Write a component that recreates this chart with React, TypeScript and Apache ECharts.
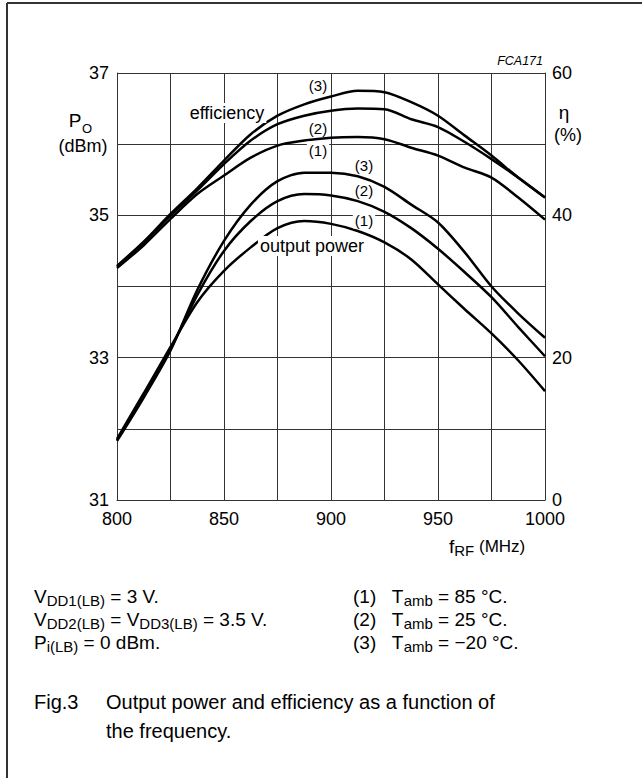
import React, { useEffect, useRef } from "react";
import * as echarts from "echarts";

// Frequency (MHz)
const freqMHz = [800, 812.5, 825, 837.5, 850, 862.5, 875, 887.5, 900, 912.5, 925, 937.5, 950, 962.5, 975, 987.5, 1000];
// Output power Po (dBm)
const powerT85 = [31.86, 32.5, 33.15, 33.78, 34.22, 34.55, 34.82, 34.92, 34.88, 34.78, 34.62, 34.38, 34.03, 33.68, 33.34, 32.96, 32.53];
const powerT25 = [31.84, 32.46, 33.12, 33.88, 34.5, 34.92, 35.2, 35.3, 35.28, 35.2, 35.05, 34.82, 34.53, 34.2, 33.85, 33.43, 33.02];
const powerTm20 = [31.83, 32.44, 33.1, 33.95, 34.64, 35.15, 35.48, 35.6, 35.6, 35.55, 35.4, 35.15, 34.9, 34.48, 34.0, 33.62, 33.28];
// Efficiency (%)
const effT85 = [32.6, 35.8, 39.5, 43.0, 45.6, 48.1, 49.8, 50.5, 50.9, 51.0, 50.7, 49.5, 48.4, 46.7, 45.3, 42.5, 39.4];
const effT25 = [32.8, 36.2, 40.0, 43.5, 47.2, 50.5, 52.8, 54.0, 54.7, 55.0, 54.9, 53.5, 52.4, 50.3, 47.9, 45.3, 42.5];
const effTm20 = [32.9, 36.3, 40.2, 43.8, 47.7, 51.4, 54.0, 55.6, 56.7, 57.5, 57.3, 55.9, 54.0, 51.2, 48.4, 45.3, 42.5];

const xTickLabels = [800, 850, 900, 950, 1000];
const leftTickLabels = [31, 33, 35, 37];
const rightTickLabels = [0, 20, 40, 60];

const FONT = "'Liberation Sans', Arial, Helvetica, sans-serif";
const INK = "#000";
const GRIDC = "#333";

export default function App() {
  const ref = useRef<HTMLDivElement>(null);

  useEffect(() => {
    if (!ref.current) return;
    const chart = echarts.init(ref.current, null, { renderer: "svg" });

    const mk = (arr: number[]) => freqMHz.map((f, i) => [f, arr[i]]);
    const lineSeries = (name: string, arr: number[], yAxisIndex: number) => ({
      name,
      type: "line",
      yAxisIndex,
      data: mk(arr),
      smooth: 0.3,
      showSymbol: false,
      symbol: "none",
      lineStyle: { color: INK, width: 2.5 },
      z: 5,
    });

    const rich = {
      m: { fontSize: 19, fontFamily: FONT, color: INK, lineHeight: 24 },
      s: { fontSize: 15, fontFamily: FONT, color: INK, lineHeight: 15, verticalAlign: "bottom" },
      u: { fontSize: 17, fontFamily: FONT, color: INK, lineHeight: 24 },
    };
    const noteText = (x: number, y: number, text: string) => ({
      type: "text",
      x,
      y,
      z: 100,
      style: { text, rich, align: "left", verticalAlign: "middle", fill: INK },
    });
    const plain = (x: number, y: number, text: string, fontSize: number, align = "center", extra: any = {}) => ({
      type: "text",
      x,
      y,
      z: 100,
      style: {
        text,
        fontSize,
        fontFamily: FONT,
        fill: INK,
        align,
        verticalAlign: "middle",
        ...extra,
      },
    });

    chart.setOption({
      animation: false,
      backgroundColor: "#fff",
      grid: { left: 117, right: 97, top: 73, bottom: 278, containLabel: false },
      xAxis: {
        type: "value",
        min: 800,
        max: 1000,
        interval: 25,
        axisLine: { show: true, lineStyle: { color: GRIDC, width: 1 } },
        axisTick: { show: false },
        splitLine: { show: true, lineStyle: { color: GRIDC, width: 1 } },
        axisLabel: {
          margin: 10,
          fontSize: 18,
          fontFamily: FONT,
          color: INK,
          formatter: (v: number) => (xTickLabels.includes(v) ? String(v) : ""),
        },
      },
      yAxis: [
        {
          type: "value",
          position: "left",
          min: 31,
          max: 37,
          interval: 1,
          axisLine: { show: true, lineStyle: { color: GRIDC, width: 1 } },
          axisTick: { show: false },
          splitLine: { show: true, lineStyle: { color: GRIDC, width: 1 } },
          axisLabel: {
            margin: 8,
            fontSize: 18,
            fontFamily: FONT,
            color: INK,
            formatter: (v: number) => (leftTickLabels.includes(v) ? String(v) : ""),
          },
        },
        {
          type: "value",
          position: "right",
          min: 0,
          max: 60,
          interval: 10,
          axisLine: { show: true, lineStyle: { color: GRIDC, width: 1 } },
          axisTick: { show: false },
          splitLine: { show: false },
          axisLabel: {
            margin: 7,
            fontSize: 18,
            fontFamily: FONT,
            color: INK,
            formatter: (v: number) => (rightTickLabels.includes(v) ? String(v) : ""),
          },
        },
      ],
      series: [
        lineSeries("Po (1) Tamb = 85 °C", powerT85, 0),
        lineSeries("Po (2) Tamb = 25 °C", powerT25, 0),
        lineSeries("Po (3) Tamb = −20 °C", powerTm20, 0),
        lineSeries("η (1) Tamb = 85 °C", effT85, 1),
        lineSeries("η (2) Tamb = 25 °C", effT25, 1),
        lineSeries("η (3) Tamb = −20 °C", effTm20, 1),
      ],
      graphic: [
        // frame lines
        { type: "line", z: 100, shape: { x1: 7, y1: 3, x2: 642, y2: 3 }, style: { stroke: "#333", lineWidth: 2 } },
        { type: "line", z: 100, shape: { x1: 7, y1: 3, x2: 7, y2: 778 }, style: { stroke: "#333", lineWidth: 2 } },
        // figure code
        plain(543, 61, "FCA171", 12.5, "right", { fontStyle: "italic" }),
        // left axis title
        plain(75, 120, "P", 19),
        plain(87, 128, "O", 13),
        plain(83, 146, "(dBm)", 18),
        // right axis title
        plain(564, 112, "η", 19),
        plain(568, 135, "(%)", 18),
        // curve annotations
        plain(318, 85, "(3)", 15),
        plain(318, 128.5, "(2)", 15),
        plain(318, 150, "(1)", 15, "center", { backgroundColor: "#fff", padding: [1, 2] }),
        plain(364, 165, "(3)", 15),
        plain(364, 190, "(2)", 15),
        plain(364, 220, "(1)", 15, "center", { backgroundColor: "#fff", padding: [1, 2] }),
        plain(227, 113, "efficiency", 18, "center", { backgroundColor: "#fff", padding: [1, 2] }),
        plain(312, 246, "output power", 18, "center", { backgroundColor: "#fff", padding: [1, 2] }),
        // x-axis title
        noteText(449, 546, "{m|f}{s|RF}{u| (MHz)}"),
        // condition notes
        noteText(34, 596, "{m|V}{s|DD1(LB)}{m| = 3 V.}"),
        noteText(34, 619, "{m|V}{s|DD2(LB)}{m| = V}{s|DD3(LB)}{m| = 3.5 V.}"),
        noteText(34, 642, "{m|P}{s|i(LB)}{m| = 0 dBm.}"),
        noteText(353, 596, "{m|(1)   T}{s|amb}{m| = 85 °C.}"),
        noteText(353, 619, "{m|(2)   T}{s|amb}{m| = 25 °C.}"),
        noteText(353, 642, "{m|(3)   T}{s|amb}{m| = −20 °C.}"),
        // caption
        plain(34, 702, "Fig.3", 20, "left"),
        plain(106, 702, "Output power and efficiency as a function of", 20, "left"),
        plain(106, 731, "the frequency.", 20, "left"),
      ],
    } as any);

    return () => chart.dispose();
  }, []);

  return (
    <div
      ref={ref}
      style={{ position: "fixed", left: 0, top: 0, width: 642, height: 778, background: "#fff" }}
    />
  );
}
